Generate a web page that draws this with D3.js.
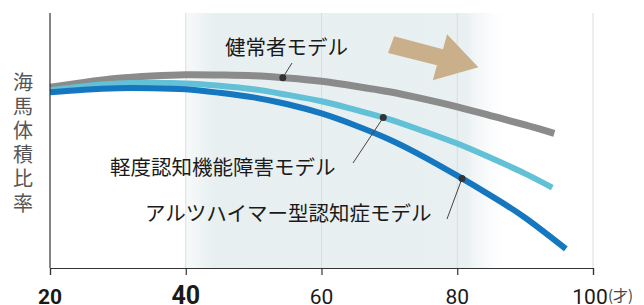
<!DOCTYPE html>
<html>
<head>
<meta charset="utf-8">
<script src="https://cdn.jsdelivr.net/npm/d3@7"></script>
<style>
  html, body { margin: 0; padding: 0; background: #fff; }
  svg { display: block; }
</style>
</head>
<body>
<script>
// ages (x) and hippocampal volume ratio (arbitrary units, y) for each model
var ageHealthy = [20, 25, 30, 35, 40, 45, 50, 55, 60, 65, 70, 75, 80, 85, 90, 94.3];
var volHealthy = [70.9, 72.8, 74.4, 75.3, 75.8, 75.7, 75.4, 74.5, 73.2, 71.3, 69.1, 66.3, 63.2, 59.7, 56.1, 52.8];

var ageMci = [20, 25, 30, 35, 40, 45, 50, 55, 60, 65, 70, 75, 80, 85, 90, 94];
var volMci = [69.7, 71.3, 72.4, 72.6, 72.4, 71.5, 70.1, 67.9, 65.4, 62.0, 58.3, 53.7, 48.8, 43.1, 37.0, 31.5];

var ageAd = [20, 25, 30, 35, 40, 45, 50, 55, 60, 65, 70, 75, 80, 85, 90, 96];
var volAd = [68.9, 69.9, 70.5, 70.5, 70.1, 68.7, 66.9, 64.2, 60.6, 55.9, 50.4, 43.7, 36.2, 28.3, 19.7, 7.5];

var seriesNames = ["健常者モデル", "軽度認知機能障害モデル", "アルツハイマー型認知症モデル"];
var seriesColors = ["#8b8b8b", "#62c0d7", "#1477c0"];
// age where each label's pointer touches its curve
var pointerAges = [54.3, 69.1, 80.7];

var xTicks = [20, 40, 60, 80, 100];
var yLabel = "海馬体積比率";
var unitLabel = "(才)";
// shaded "ageing" band and direction arrow, in data units
var bandAges = [40, 88];
var arrowAges = [70.7, 77.9, 78.5, 83.1, 76.4, 77.0, 69.8];
var arrowVols = [90.9, 85.8, 91.7, 78.7, 73.6, 79.5, 84.3];

var width = 644, height = 305;
var mLeft = 50, mRight = 593, mTop = 13, mBottom = 268;

var svg = d3.select("body").append("svg")
  .attr("width", width)
  .attr("height", height);

var x = d3.scaleLinear().domain([20, 100]).range([mLeft, mRight]);
var y = d3.scaleLinear().domain([0, 100]).range([mBottom, mTop]);

// band gradient
var defs = svg.append("defs");
var grad = defs.append("linearGradient")
  .attr("id", "band")
  .attr("gradientUnits", "userSpaceOnUse")
  .attr("x1", x(bandAges[0])).attr("x2", x(bandAges[1]))
  .attr("y1", 0).attr("y2", 0);
grad.append("stop").attr("offset", 0).attr("stop-color", "#e7eff1").attr("stop-opacity", 0.35);
grad.append("stop").attr("offset", 0.09).attr("stop-color", "#e7eff1").attr("stop-opacity", 1);
grad.append("stop").attr("offset", 0.86).attr("stop-color", "#e9f0f2").attr("stop-opacity", 1);
grad.append("stop").attr("offset", 1).attr("stop-color", "#ffffff").attr("stop-opacity", 0);

svg.append("rect")
  .attr("x", x(bandAges[0]))
  .attr("y", mTop)
  .attr("width", x(bandAges[1]) - x(bandAges[0]))
  .attr("height", mBottom - mTop)
  .attr("fill", "url(#band)");

// vertical grid lines
svg.selectAll("line.grid")
  .data(xTicks.slice(1))
  .enter()
  .append("line")
  .attr("class", "grid")
  .attr("x1", function(d) { return x(d); })
  .attr("x2", function(d) { return x(d); })
  .attr("y1", mTop)
  .attr("y2", mBottom)
  .attr("stroke", "#dcdcdc")
  .attr("stroke-width", 1);

// arrow
svg.append("polygon")
  .attr("points", arrowAges.map(function(a, i) {
    return x(a) + "," + y(arrowVols[i]);
  }).join(" "))
  .attr("fill", "#c9b08a");

// curves
var line = d3.line()
  .x(function(d) { return x(d[0]); })
  .y(function(d) { return y(d[1]); })
  .curve(d3.curveNatural);

var series = [
  d3.zip(ageHealthy, volHealthy),
  d3.zip(ageMci, volMci),
  d3.zip(ageAd, volAd)
];

var paths = svg.selectAll("path.curve")
  .data(series)
  .enter()
  .append("path")
  .attr("class", "curve")
  .attr("d", line)
  .attr("fill", "none")
  .attr("stroke", function(d, i) { return seriesColors[i]; })
  .attr("stroke-width", function(d, i) { return i == 0 ? 7 : 6; });

// find the point on a path at a given screen x
function pointAtX(node, px) {
  var lo = 0, hi = node.getTotalLength(), p;
  for (var k = 0; k < 40; k++) {
    var mid = (lo + hi) / 2;
    p = node.getPointAtLength(mid);
    if (p.x < px) lo = mid; else hi = mid;
  }
  return p;
}

// axes
svg.append("line")
  .attr("x1", mLeft).attr("x2", mLeft)
  .attr("y1", mTop).attr("y2", mBottom)
  .attr("stroke", "#333").attr("stroke-width", 1.2);

var xAxis = svg.append("g")
  .attr("transform", "translate(0," + mBottom + ")")
  .call(d3.axisBottom(x).tickValues(xTicks).tickSize(7).tickFormat(""));
xAxis.select(".domain").attr("stroke", "#333").attr("stroke-width", 1.2);
xAxis.selectAll(".tick line").attr("stroke", "#333").attr("stroke-width", 1.2);

svg.selectAll("text.xtick")
  .data(xTicks)
  .enter()
  .append("text")
  .attr("class", "xtick")
  .attr("x", function(d) { return d == 100 ? x(d) - 3 : x(d); })
  .attr("y", 304)
  .attr("text-anchor", "middle")
  .attr("font-family", "Roboto, 'Liberation Sans', sans-serif")
  .attr("font-size", function(d) { return d == 40 ? 25 : 21; })
  .attr("font-weight", function(d) { return d <= 40 ? "bold" : "normal"; })
  .attr("fill", "#1a1a1a")
  .text(function(d) { return d; });

svg.append("text")
  .attr("x", x(100) + 15)
  .attr("y", 301)
  .attr("font-family", "'Noto Sans CJK JP', sans-serif")
  .attr("font-size", 15)
  .attr("fill", "#444")
  .text(unitLabel);

// vertical y label
svg.append("text")
  .attr("x", 23)
  .attr("y", 72)
  .attr("writing-mode", "vertical-rl")
  .attr("letter-spacing", 4.2)
  .attr("font-family", "'Noto Sans CJK JP', sans-serif")
  .attr("font-size", 20)
  .attr("fill", "#555")
  .text(yLabel);

// series labels with pointers
var labelPos = [[225, 55], [110, 175], [145, 221]];
var leaderStart = [[292, 63], [353, 163], [447, 219]];

paths.each(function(d, i) {
  var p = pointAtX(this, x(pointerAges[i]));
  svg.append("line")
    .attr("x1", leaderStart[i][0]).attr("y1", leaderStart[i][1])
    .attr("x2", p.x).attr("y2", p.y)
    .attr("stroke", "#444").attr("stroke-width", 1);
  svg.append("circle")
    .attr("cx", p.x).attr("cy", p.y).attr("r", 3.5)
    .attr("fill", "#333");
  svg.append("text")
    .attr("x", labelPos[i][0])
    .attr("y", labelPos[i][1])
    .attr("font-family", "'Noto Sans CJK JP', sans-serif")
    .attr("font-size", 20.5)
    .attr("fill", "#1a1a1a")
    .text(seriesNames[i]);
});
</script>
</body>
</html>
